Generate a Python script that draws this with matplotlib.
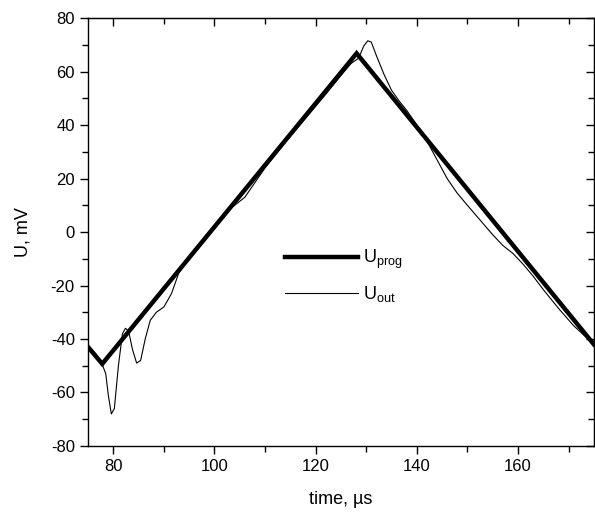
import numpy as np
import matplotlib.pyplot as plt
from matplotlib.ticker import MultipleLocator

plt.rcParams['font.family'] = ['Liberation Sans', 'DejaVu Sans']
plt.rcParams['mathtext.default'] = 'regular'
plt.rcParams['axes.unicode_minus'] = False

# programmed triangle
t_prog = [75, 77.8, 128.1, 175]
u_prog = [-43, -49.3, 66.8, -42]

# measured output
t_out = [75, 76.5, 77.8, 78.5, 79.0, 79.6, 80.2, 81.0, 81.8, 82.4, 83.0, 83.8,
         84.6, 85.4, 86.3, 87.3, 88.5, 90.0, 91.5, 93, 95, 97, 100, 103, 106,
         110, 114, 118, 122, 125, 127, 128.5, 129.5, 130.3, 131, 132, 133.5,
         135, 136.5, 138, 140, 142, 144, 146, 148, 150, 152.5, 155, 157, 159,
         161, 163, 165, 168, 171, 175]
u_out = [-42.5, -45.5, -49.5, -53, -61, -68, -66, -50, -38, -36, -37, -44,
         -49, -48, -40, -33, -30, -28, -23, -15, -10, -5, 2.5, 8.5, 13,
         24, 33.5, 42.5, 51.5, 58.5, 63, 65, 69.5, 71.5, 71, 66, 59,
         53, 49, 45.5, 40, 34, 27, 20, 14.5, 10, 4.5, -1, -5, -8,
         -12, -16.5, -21.5, -28.5, -35, -42]

fig = plt.figure(figsize=(5.95, 5.15), dpi=100)
ax = fig.add_axes([0.148, 0.134, 0.85, 0.831])

ax.plot(t_prog, u_prog, color='black', lw=3.2, solid_joinstyle='miter',
        label='$U_{prog}$')
ax.plot(t_out, u_out, color='black', lw=0.8, label='$U_{out}$')

ax.set_xlim(75, 175)
ax.set_ylim(-80, 80)
ax.xaxis.set_major_locator(MultipleLocator(20))
ax.xaxis.set_minor_locator(MultipleLocator(10))
ax.yaxis.set_major_locator(MultipleLocator(20))
ax.yaxis.set_minor_locator(MultipleLocator(10))
ax.tick_params(which='both', direction='out', labelsize=12, width=1)
ax.tick_params(which='major', length=6)
ax.tick_params(which='minor', length=4)
for s in ax.spines.values():
    s.set_linewidth(1.0)

# inward ticks on top and right
top = ax.secondary_xaxis('top')
top.xaxis.set_major_locator(MultipleLocator(20))
top.xaxis.set_minor_locator(MultipleLocator(10))
top.tick_params(which='both', direction='in', labeltop=False, width=1)
top.tick_params(which='major', length=6)
top.tick_params(which='minor', length=4)
right = ax.secondary_yaxis('right')
right.yaxis.set_major_locator(MultipleLocator(20))
right.yaxis.set_minor_locator(MultipleLocator(10))
right.tick_params(which='both', direction='in', labelright=False, width=1)
right.tick_params(which='major', length=6)
right.tick_params(which='minor', length=4)

ax.set_xlabel('time, µs', fontsize=13, labelpad=12)
ax.set_ylabel('U, mV', fontsize=13, labelpad=14)

ax.legend(loc='center left', bbox_to_anchor=(0.39, 0.397), frameon=False,
          fontsize=13, handlelength=4.0, labelspacing=0.75, borderpad=0,
          borderaxespad=0, handletextpad=0.3)

fig.savefig('out.png', dpi=100)
